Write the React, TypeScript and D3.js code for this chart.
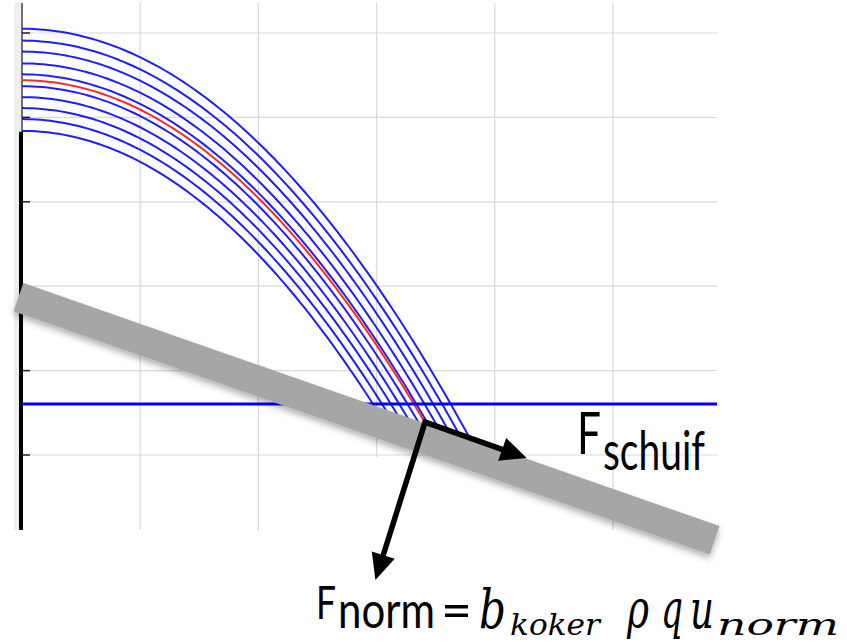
import React, { useLayoutEffect, useRef, useState } from "react";
import * as d3 from "d3";

// ---- data (data units) ----
const gridXValues = [1, 2, 3, 4, 5];
const gridYValues = [0, 1, 2, 3, 4, 5];
const tickYValues = [0, 1, 2, 3, 4, 5];
// blue trajectories: start height and curvature
const blueStartHeights = [5.05, 4.91, 4.78, 4.64, 4.51, 4.37, 4.24, 4.11, 3.98, 3.84];
const blueCurvatures = [0.338, 0.341, 0.345, 0.348, 0.351, 0.354, 0.357, 0.36, 0.364, 0.367];
const redStartHeight = [4.44];
const redCurvature = [0.349];
const waterLevel = 0.604;
// inclined plate (band) end points
const bandStart = [-0.03, 1.87];
const bandEnd = [5.86, -1.01];
// force arrows
const arrowCorner = [3.41, 0.39];
const shearTip = [4.27, -0.036];
const normalTip = [2.99, -1.48];
// extents
const xExtent = [0, 5.88];
const yExtent = [-0.89, 5.355];
const wallTop = 3.83;

const W = 847;
const H = 643;

type FitProps = {
  x: number;
  y: number;
  width: number;
  size: number;
  family: string;
  italic?: boolean;
  children: string;
};

function FitText({ x, y, width, size, family, italic, children }: FitProps) {
  const ref = useRef<SVGTextElement>(null);
  const [sx, setSx] = useState(1);
  useLayoutEffect(() => {
    if (ref.current) {
      const natural = ref.current.getComputedTextLength();
      if (natural > 0) setSx(width / natural);
    }
  }, [width, size, family, children]);
  return (
    <g transform={`translate(${x},${y}) scale(${sx},1)`}>
      <text
        ref={ref}
        x={0}
        y={0}
        fontFamily={family}
        fontStyle={italic ? "italic" : "normal"}
        fontSize={size}
        fill="#000"
      >
        {children}
      </text>
    </g>
  );
}

export default function App() {
  const x = d3.scaleLinear().domain([0, 5]).range([22, 613]);
  const y = d3.scaleLinear().domain([0, 5]).range([455, 33]);

  const slope = (bandEnd[1] - bandStart[1]) / (bandEnd[0] - bandStart[0]);
  const bandAt = (xv: number) => bandStart[1] + slope * (xv - bandStart[0]);

  const curve = (h: number, c: number) => {
    // end where the trajectory meets the plate centre line
    const k0 = bandAt(0);
    const disc = slope * slope - 4 * c * (k0 - h);
    const xe = (-slope + Math.sqrt(disc)) / (2 * c);
    const pts = d3.range(0, 81).map((i) => {
      const xv = (xe * i) / 80;
      return [xv, h - c * xv * xv] as [number, number];
    });
    return d3
      .line<[number, number]>()
      .x((d) => x(d[0]))
      .y((d) => y(d[1]))(pts) as string;
  };

  const gridColor = "#d9d9d9";

  const headPath = (from: number[], to: number[], len: number, half: number) => {
    const x1 = x(from[0]), y1 = y(from[1]), x2 = x(to[0]), y2 = y(to[1]);
    const dx = x2 - x1, dy = y2 - y1;
    const L = Math.hypot(dx, dy);
    const ux = dx / L, uy = dy / L;
    const bx = x2 - ux * len, by = y2 - uy * len;
    return `M${x2},${y2}L${bx - uy * half},${by + ux * half}L${bx + uy * half},${by - ux * half}Z`;
  };
  const shortened = (from: number[], to: number[], len: number) => {
    const x1 = x(from[0]), y1 = y(from[1]), x2 = x(to[0]), y2 = y(to[1]);
    const dx = x2 - x1, dy = y2 - y1;
    const L = Math.hypot(dx, dy);
    return [x2 - (dx / L) * len, y2 - (dy / L) * len];
  };
  const sEnd = shortened(arrowCorner, shearTip, 18);
  const nEnd = shortened(arrowCorner, normalTip, 18);

  const sans = "Lato, 'Open Sans', sans-serif";
  const math = "'DejaVu Serif', serif";

  return (
    <svg
      width={W}
      height={H}
      style={{ position: "absolute", left: 0, top: 0, display: "block", background: "#fff" }}
    >
      <defs>
        <filter id="shadow" x="-10%" y="-30%" width="120%" height="160%">
          <feDropShadow dx="0" dy="4" stdDeviation="3" floodColor="#000" floodOpacity="0.3" />
        </filter>
      </defs>
      {/* light strip left of axis */}
      <rect x={14} y={y(yExtent[1])} width={8} height={y(yExtent[0]) - y(yExtent[1])} fill="#efefef" />
      {/* grid */}
      {gridXValues.map((g) => (
        <line key={"gx" + g} x1={x(g)} x2={x(g)} y1={y(yExtent[1])} y2={y(yExtent[0])} stroke={gridColor} strokeWidth={1.2} />
      ))}
      {gridYValues.map((g) => (
        <line key={"gy" + g} x1={x(0)} x2={x(xExtent[1])} y1={y(g)} y2={y(g)} stroke={gridColor} strokeWidth={1.2} />
      ))}
      {/* white box hiding lower grid */}
      <rect x={317} y={457} width={190} height={H - 457} fill="#fff" />
      {/* axis */}
      <line x1={x(0)} x2={x(0)} y1={y(yExtent[1])} y2={y(wallTop)} stroke="#444" strokeWidth={1.5} />
      <line x1={x(0) - 1} x2={x(0) - 1} y1={y(wallTop)} y2={y(yExtent[0])} stroke="#000" strokeWidth={4} />
      {tickYValues.map((t) => (
        <line key={"t" + t} x1={x(0)} x2={x(0) + 8} y1={y(t)} y2={y(t)} stroke="#222" strokeWidth={1.5} />
      ))}
      {/* trajectories */}
      {blueStartHeights.map((h, i) => (
        <path key={"b" + i} d={curve(h, blueCurvatures[i])} fill="none" stroke="#1f1fff" strokeWidth={2} />
      ))}
      {redStartHeight.map((h, i) => (
        <path key={"r" + i} d={curve(h, redCurvature[i])} fill="none" stroke="#ff2a2a" strokeWidth={2} />
      ))}
      {/* water level */}
      <line x1={x(0)} x2={x(xExtent[1])} y1={y(waterLevel)} y2={y(waterLevel)} stroke="#0000ff" strokeWidth={3} />
      {/* plate */}
      <line
        x1={x(bandStart[0])}
        y1={y(bandStart[1])}
        x2={x(bandEnd[0])}
        y2={y(bandEnd[1])}
        stroke="#a6a6a6"
        strokeWidth={30}
        filter="url(#shadow)"
      />
      {/* force arrows */}
      <polyline
        points={`${sEnd[0]},${sEnd[1]} ${x(arrowCorner[0])},${y(arrowCorner[1])} ${nEnd[0]},${nEnd[1]}`}
        fill="none"
        stroke="#000"
        strokeWidth={5.5}
        strokeLinejoin="miter"
      />
      <path d={headPath(arrowCorner, shearTip, 26, 12)} fill="#000" />
      <path d={headPath(arrowCorner, normalTip, 26, 12)} fill="#000" />
      {/* labels */}
      <FitText x={577} y={454} width={24} size={58} family={sans}>F</FitText>
      <FitText x={603} y={470} width={102} size={55} family={sans}>schuif</FitText>

      <FitText x={316} y={619} width={20} size={47} family={sans}>F</FitText>
      <FitText x={338} y={628} width={97} size={50} family={sans}>norm</FitText>
      <FitText x={441} y={628} width={31} size={50} family={sans}>=</FitText>
      <FitText x={479} y={628} width={27} size={54} family={math} italic>b</FitText>
      <FitText x={510} y={635} width={90} size={29} family={math} italic>koker</FitText>
      <FitText x={627} y={628} width={22} size={54} family={math} italic>ρ</FitText>
      <FitText x={661} y={628} width={22} size={54} family={math} italic>q</FitText>
      <FitText x={690} y={628} width={24} size={54} family={math} italic>u</FitText>
      <FitText x={717} y={635} width={122} size={29} family={math} italic>norm</FitText>
    </svg>
  );
}
